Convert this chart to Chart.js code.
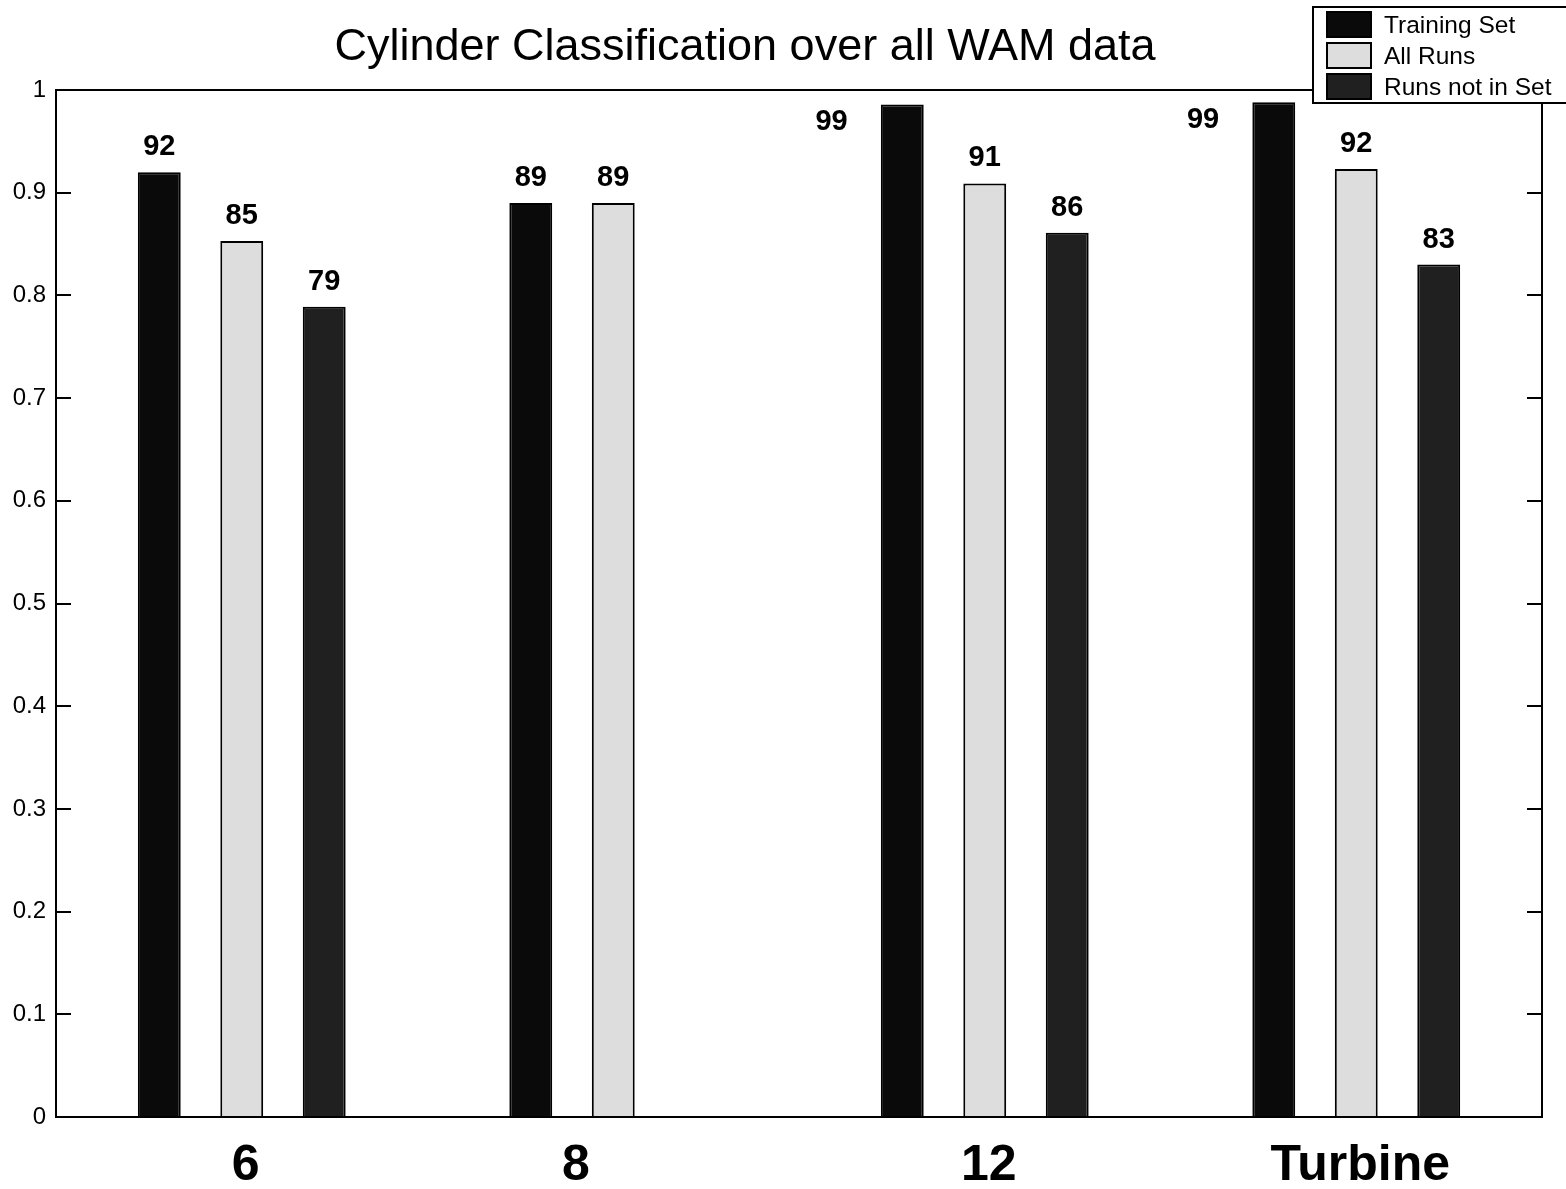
<!DOCTYPE html>
<html lang="en">
<head>
    <meta charset="UTF-8">
    <title>Cylinder Classification</title>
    <script src="https://cdn.jsdelivr.net/npm/chart.js"></script>
    <style>
        html, body { margin: 0; padding: 0; background: #fff; }
        canvas { display: block; }
    </style>
</head>
<body>
    <canvas id="cylChart" width="1566" height="1189"></canvas>

    <script>
        // data
        const categories = ["6", "8", "12", "Turbine"];
        const trainingSet = [0.920, 0.890, 0.986, 0.988];
        const allRuns = [0.853, 0.890, 0.909, 0.923];
        const runsNotInSet = [0.789, null, 0.861, 0.830];
        const seriesNames = ["Training Set", "All Runs", "Runs not in Set"];
        const seriesColors = ["#0a0a0a", "#dddddd", "#202020"];
        const yTicks = [0, 0.1, 0.2, 0.3, 0.4, 0.5, 0.6, 0.7, 0.8, 0.9, 1];

        const FONT = "'Liberation Sans', Arial, sans-serif";

        const decorPlugin = {
            id: "decor",
            afterDraw(chart) {
                const ctx = chart.ctx;
                const area = chart.chartArea;
                const yScale = chart.scales.y;
                ctx.save();

                // frame
                ctx.strokeStyle = "#000";
                ctx.lineWidth = 2;
                ctx.strokeRect(area.left, area.top, area.right - area.left, area.bottom - area.top);

                // inward ticks on both sides
                yTicks.forEach(v => {
                    const py = Math.round(yScale.getPixelForValue(v));
                    ctx.beginPath();
                    ctx.moveTo(area.left, py);
                    ctx.lineTo(area.left + 15, py);
                    ctx.moveTo(area.right, py);
                    ctx.lineTo(area.right - 15, py);
                    ctx.stroke();
                });

                // value labels over bars
                ctx.fillStyle = "#000";
                ctx.font = "bold 29px " + FONT;
                ctx.textAlign = "center";
                ctx.textBaseline = "middle";
                chart.data.datasets.forEach((ds, i) => {
                    const meta = chart.getDatasetMeta(i);
                    meta.data.forEach((bar, j) => {
                        const v = ds.data[j];
                        if (v === null || v === undefined) return;
                        const txt = String(Math.round(v * 100));
                        let lx = bar.x;
                        let ly = bar.y - 25;
                        if (ly - 14 < area.top) {
                            // no room above, put it beside the bar
                            lx = bar.x - bar.width * 1.65;
                            ly = bar.y + 18;
                        }
                        ctx.fillText(txt, lx, ly);
                    });
                });

                // category labels, centred under the bars that exist
                ctx.font = "bold 50px " + FONT;
                categories.forEach((c, j) => {
                    let sum = 0, n = 0;
                    chart.data.datasets.forEach((ds, i) => {
                        if (ds.data[j] !== null) {
                            sum += chart.getDatasetMeta(i).data[j].x;
                            n++;
                        }
                    });
                    ctx.fillText(c, sum / n + 4, area.bottom + 49);
                });

                // title
                ctx.font = "45px " + FONT;
                ctx.fillText("Cylinder Classification over all WAM data", 745, 48);

                // legend box
                ctx.fillStyle = "#fff";
                ctx.fillRect(1313, 7, 260, 96);
                ctx.strokeStyle = "#000";
                ctx.lineWidth = 2;
                ctx.strokeRect(1313, 7, 260, 96);
                ctx.font = "24.5px " + FONT;
                ctx.textAlign = "left";
                seriesNames.forEach((name, i) => {
                    const sy = 12 + i * 31;
                    ctx.fillStyle = seriesColors[i];
                    ctx.fillRect(1327, sy, 44, 25);
                    ctx.strokeRect(1327, sy, 44, 25);
                    ctx.fillStyle = "#000";
                    ctx.fillText(name, 1384, sy + 14);
                });

                ctx.restore();
            }
        };

        new Chart(document.getElementById("cylChart"), {
            type: "bar",
            data: {
                labels: categories,
                datasets: [trainingSet, allRuns, runsNotInSet].map((d, i) => ({
                    label: seriesNames[i],
                    data: d,
                    backgroundColor: seriesColors[i],
                    borderColor: "#000",
                    borderWidth: 2,
                    borderSkipped: "bottom",
                    categoryPercentage: 0.666,
                    barPercentage: 0.52
                }))
            },
            options: {
                responsive: false,
                devicePixelRatio: 1,
                animation: false,
                layout: { padding: { top: 90, right: 24, left: 0, bottom: 0 } },
                plugins: {
                    legend: { display: false },
                    tooltip: { enabled: false }
                },
                scales: {
                    x: {
                        grid: { display: false, drawTicks: false },
                        border: { display: false },
                        ticks: { display: false },
                        afterFit: s => { s.height = 72; }
                    },
                    y: {
                        min: 0,
                        max: 1,
                        grid: { display: false, drawTicks: false },
                        border: { display: false },
                        ticks: {
                            stepSize: 0.1,
                            padding: 10,
                            color: "#000",
                            font: { family: FONT, size: 24 },
                            callback: v => String(Math.round(v * 10) / 10)
                        },
                        afterFit: s => { s.width = 56; }
                    }
                }
            },
            plugins: [decorPlugin]
        });
    </script>
</body>
</html>
